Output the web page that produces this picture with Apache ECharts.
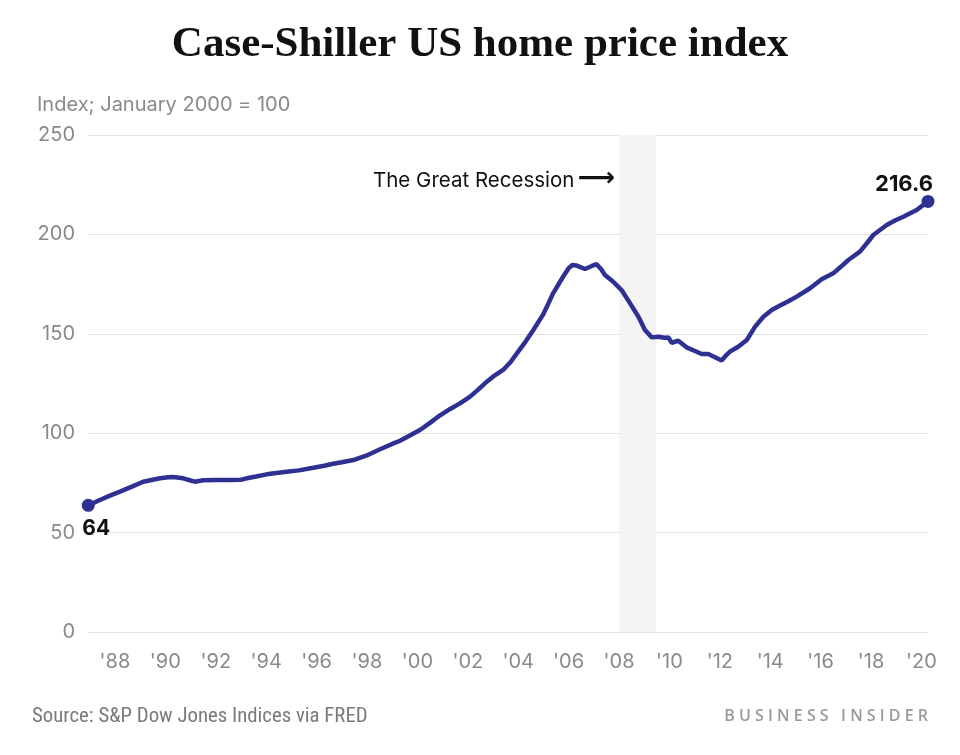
<!DOCTYPE html>
<html>
<head>
<meta charset="utf-8">
<script src="https://cdn.jsdelivr.net/npm/echarts@6/dist/echarts.min.js"></script>
<style>
html,body{margin:0;padding:0;background:#fff;}
#chart{width:960px;height:755px;}
</style>
</head>
<body>
<div id="chart"></div>
<script>
// Decimal years (position along the time axis) and index values
const years = [
  1986.94, 1987.4, 1987.8, 1988.2, 1988.65, 1989.12, 1989.5, 1989.79, 1990.1, 1990.31,
  1990.71, 1991.0, 1991.17, 1991.5, 1992.0, 1992.56, 1993.0, 1993.23, 1993.6, 1994.02,
  1994.4, 1994.81, 1995.3, 1995.87, 1996.3, 1996.66, 1997.0, 1997.46, 1997.99, 1998.52,
  1999.0, 1999.31, 1999.7, 2000.1, 2000.5, 2000.9, 2001.3, 2001.69, 2002.09, 2002.4,
  2002.68, 2003.0, 2003.4, 2003.7, 2003.94, 2004.3, 2004.6, 2004.98, 2005.2, 2005.39,
  2005.78, 2006.0, 2006.15, 2006.3, 2006.65, 2006.9, 2007.11, 2007.3, 2007.44, 2007.77,
  2008.1, 2008.44, 2008.77, 2009.03, 2009.3, 2009.56, 2009.8, 2009.96, 2010.09, 2010.35,
  2010.68, 2011.08, 2011.28, 2011.54, 2011.81, 2012.07, 2012.25, 2012.4, 2012.73, 2013.07,
  2013.4, 2013.73, 2014.06, 2014.39, 2014.72, 2015.05, 2015.58, 2016.04, 2016.5, 2016.8,
  2017.1, 2017.56, 2017.85, 2018.09, 2018.62, 2018.95, 2019.28, 2019.81, 2020.26
];
const values = [
  63.7, 66.4, 68.6, 70.6, 73.0, 75.6, 76.6, 77.3, 77.8, 78.0,
  77.3, 76.2, 75.6, 76.3, 76.4, 76.5, 76.6, 77.3, 78.2, 79.3,
  80.0, 80.6, 81.3, 82.6, 83.6, 84.6, 85.4, 86.5, 88.8, 91.9,
  94.6, 96.2, 98.8, 101.6, 105.2, 109.0, 112.2, 115.0, 118.4, 121.8,
  125.1, 128.4, 131.8, 135.8, 140.0, 146.2, 151.9, 159.5, 165.3, 170.5,
  178.7, 183.0, 184.6, 184.4, 182.6, 184.0, 185.0, 182.3, 179.6, 176.2,
  172.0, 165.3, 158.6, 151.9, 148.2, 148.5, 148.0, 148.1, 145.5, 146.5,
  143.2, 141.0, 139.8, 139.8, 138.2, 136.6, 139.2, 141.0, 143.5, 146.9,
  153.6, 158.6, 162.0, 164.2, 166.4, 168.7, 172.9, 177.4, 180.4, 183.7,
  187.1, 191.3, 195.8, 199.7, 204.7, 207.0, 208.9, 212.3, 216.6
];
const xTickYears = [1988,1990,1992,1994,1996,1998,2000,2002,2004,2006,2008,2010,2012,2014,2016,2018,2020];
const recession = [2008.0, 2009.47];
const startLabel = '64';
const endLabel = '216.6';

const LINE = '#2e3192';
const FONT = 'Inter, "Open Sans", sans-serif';

const n = years.length;
const seriesData = years.map((y, i) => {
  const d = { value: [y, values[i]] };
  if (i === 0) {
    d.symbolSize = 13;
    d.label = { show: true, formatter: startLabel, position: 'bottom', offset: [8, 1],
      fontSize: 21, fontWeight: 'bold', color: '#111', fontFamily: FONT };
  } else if (i === n - 1) {
    d.symbolSize = 13;
    d.label = { show: true, formatter: endLabel, position: 'top', offset: [-24, 5],
      fontSize: 22, fontWeight: 'bold', color: '#111', fontFamily: FONT };
  } else {
    d.symbolSize = 0;
  }
  return d;
});

const chart = echarts.init(document.getElementById('chart'), null, { renderer: 'canvas' });
chart.setOption({
  animation: false,
  backgroundColor: '#fff',
  title: [
    { text: 'Case-Shiller US home price index', left: 'center', top: 18,
      textStyle: { fontFamily: '"Liberation Serif", serif', fontSize: 43, fontWeight: 'bold', color: '#111' } },
    { text: 'Index; January 2000 = 100', left: 32, top: 90,
      textStyle: { fontFamily: FONT, fontSize: 20, fontWeight: 'normal', color: '#8a8a8a' } }
  ],
  grid: { left: 88, right: 32, top: 135, bottom: 123 },
  xAxis: {
    type: 'value', min: 1986.93, max: 2020.26,
    splitLine: { show: false }, axisLine: { show: false }, axisTick: { show: false },
    axisLabel: {
      customValues: xTickYears, margin: 20,
      formatter: v => "'" + String(Math.round(v)).slice(2),
      color: '#8a8a8a', fontSize: 20, fontFamily: FONT
    }
  },
  yAxis: {
    type: 'value', min: 0, max: 250, interval: 50,
    axisLine: { show: false }, axisTick: { show: false },
    splitLine: { lineStyle: { color: '#e3e3e3', width: 1 } },
    axisLabel: { color: '#8a8a8a', fontSize: 20, fontFamily: FONT, margin: 13 }
  },
  series: [{
    type: 'line', data: seriesData, clip: false,
    symbol: 'circle', showAllSymbol: true,
    itemStyle: { color: LINE },
    lineStyle: { color: LINE, width: 4.5 },
    z: 5,
    markArea: {
      silent: true,
      itemStyle: { color: '#f4f4f4' },
      label: {
        show: true,
        formatter: '{t|The Great Recession} {a|\u27F6}',
        position: [-246, 31], align: 'left',
        rich: {
          t: { fontSize: 20.5, color: '#111', fontFamily: FONT },
          a: { fontSize: 26, color: '#111', fontFamily: '"DejaVu Sans", sans-serif', fontWeight: 'bold', padding: [0, 0, 4, 0] }
        }
      },
      data: [[{ xAxis: recession[0] }, { xAxis: recession[1] }]]
    }
  }],
  graphic: [
    { type: 'text', left: 32, top: 706,
      style: { text: 'Source: S&P Dow Jones Indices via FRED', fill: '#7a7a7a',
        font: '20.8px "Liberation Sans Narrow", "Roboto Condensed", sans-serif' } },
    { type: 'text', right: 32, top: 708,
      style: { text: 'B U S I N E S S   I N S I D E R', fill: '#9a9a9a',
        font: '600 16px "Open Sans", sans-serif' } }
  ]
});
</script>
</body>
</html>
